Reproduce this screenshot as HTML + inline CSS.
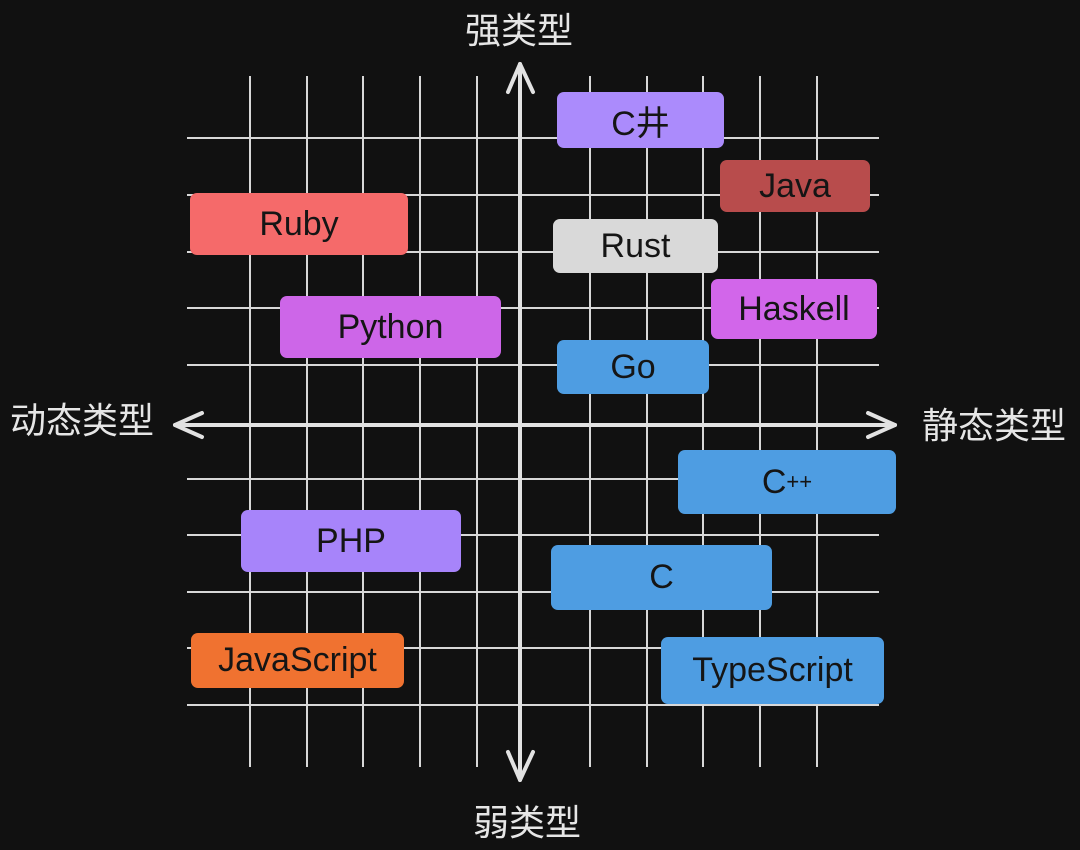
<!DOCTYPE html>
<html><head><meta charset="utf-8"><style>
body{margin:0;width:1080px;height:850px;background:#111111;overflow:hidden;position:relative;font-family:"Liberation Sans","Noto Sans CJK SC",sans-serif}
.b{position:absolute;display:flex;align-items:center;justify-content:center;color:#151515;font-size:34px;border-radius:7px}
.l{position:absolute;color:#e6e6e6;font-size:36px;line-height:40px;font-family:"Liberation Sans","Noto Sans CJK SC",sans-serif;white-space:nowrap}
</style></head><body>
<svg width="1080" height="850" style="position:absolute;left:0;top:0">
<g stroke="#d8d8d8" stroke-width="2">
<line x1="250" y1="76" x2="250" y2="767"/><line x1="307" y1="76" x2="307" y2="767"/><line x1="363" y1="76" x2="363" y2="767"/><line x1="420" y1="76" x2="420" y2="767"/><line x1="477" y1="76" x2="477" y2="767"/>
<line x1="590" y1="76" x2="590" y2="767"/><line x1="647" y1="76" x2="647" y2="767"/><line x1="703" y1="76" x2="703" y2="767"/><line x1="760" y1="76" x2="760" y2="767"/><line x1="817" y1="76" x2="817" y2="767"/>
<line x1="187" y1="138" x2="879" y2="138"/><line x1="187" y1="195" x2="879" y2="195"/><line x1="187" y1="252" x2="879" y2="252"/><line x1="187" y1="308" x2="879" y2="308"/><line x1="187" y1="365" x2="879" y2="365"/>
<line x1="187" y1="479" x2="879" y2="479"/><line x1="187" y1="535" x2="879" y2="535"/><line x1="187" y1="592" x2="879" y2="592"/><line x1="187" y1="648" x2="879" y2="648"/><line x1="187" y1="705" x2="879" y2="705"/>
</g>
<g stroke="#e2e2e2" stroke-width="4" fill="none" stroke-linecap="round" stroke-linejoin="round">
<line x1="520" y1="64" x2="520" y2="780"/><line x1="175" y1="425" x2="895" y2="425"/>
<polyline points="508,92 520,64 533,92"/><polyline points="508,752 520,780 533,752"/>
<polyline points="202,413 175,425 202,437"/><polyline points="868,413 895,425 868,437"/>
</g>
</svg>
<div class="l" style="left:465px;top:11px">强类型</div>
<div class="l" style="left:473px;top:803px">弱类型</div>
<div class="l" style="left:10px;top:401px">动态类型</div>
<div class="l" style="left:922px;top:406px">静态类型</div>
<div class="b" style="left:557px;top:92px;width:167px;height:56px;background:#ab8bfc">C井</div>
<div class="b" style="left:720px;top:160px;width:150px;height:52px;background:#b84c4c">Java</div>
<div class="b" style="left:190px;top:193px;width:218px;height:62px;background:#f56a6a">Ruby</div>
<div class="b" style="left:553px;top:219px;width:165px;height:54px;background:#d9d9d9">Rust</div>
<div class="b" style="left:711px;top:279px;width:166px;height:60px;background:#d266ea">Haskell</div>
<div class="b" style="left:280px;top:296px;width:221px;height:62px;background:#cd66e8">Python</div>
<div class="b" style="left:557px;top:340px;width:152px;height:54px;background:#4e9de2">Go</div>
<div class="b" style="left:678px;top:450px;width:218px;height:64px;background:#4e9de2">C<sup style="font-size:22px">++</sup></div>
<div class="b" style="left:241px;top:510px;width:220px;height:62px;background:#a784fa">PHP</div>
<div class="b" style="left:551px;top:545px;width:221px;height:65px;background:#4e9de2">C</div>
<div class="b" style="left:191px;top:633px;width:213px;height:55px;background:#f07230">JavaScript</div>
<div class="b" style="left:661px;top:637px;width:223px;height:67px;background:#4e9de2">TypeScript</div>
</body></html>
